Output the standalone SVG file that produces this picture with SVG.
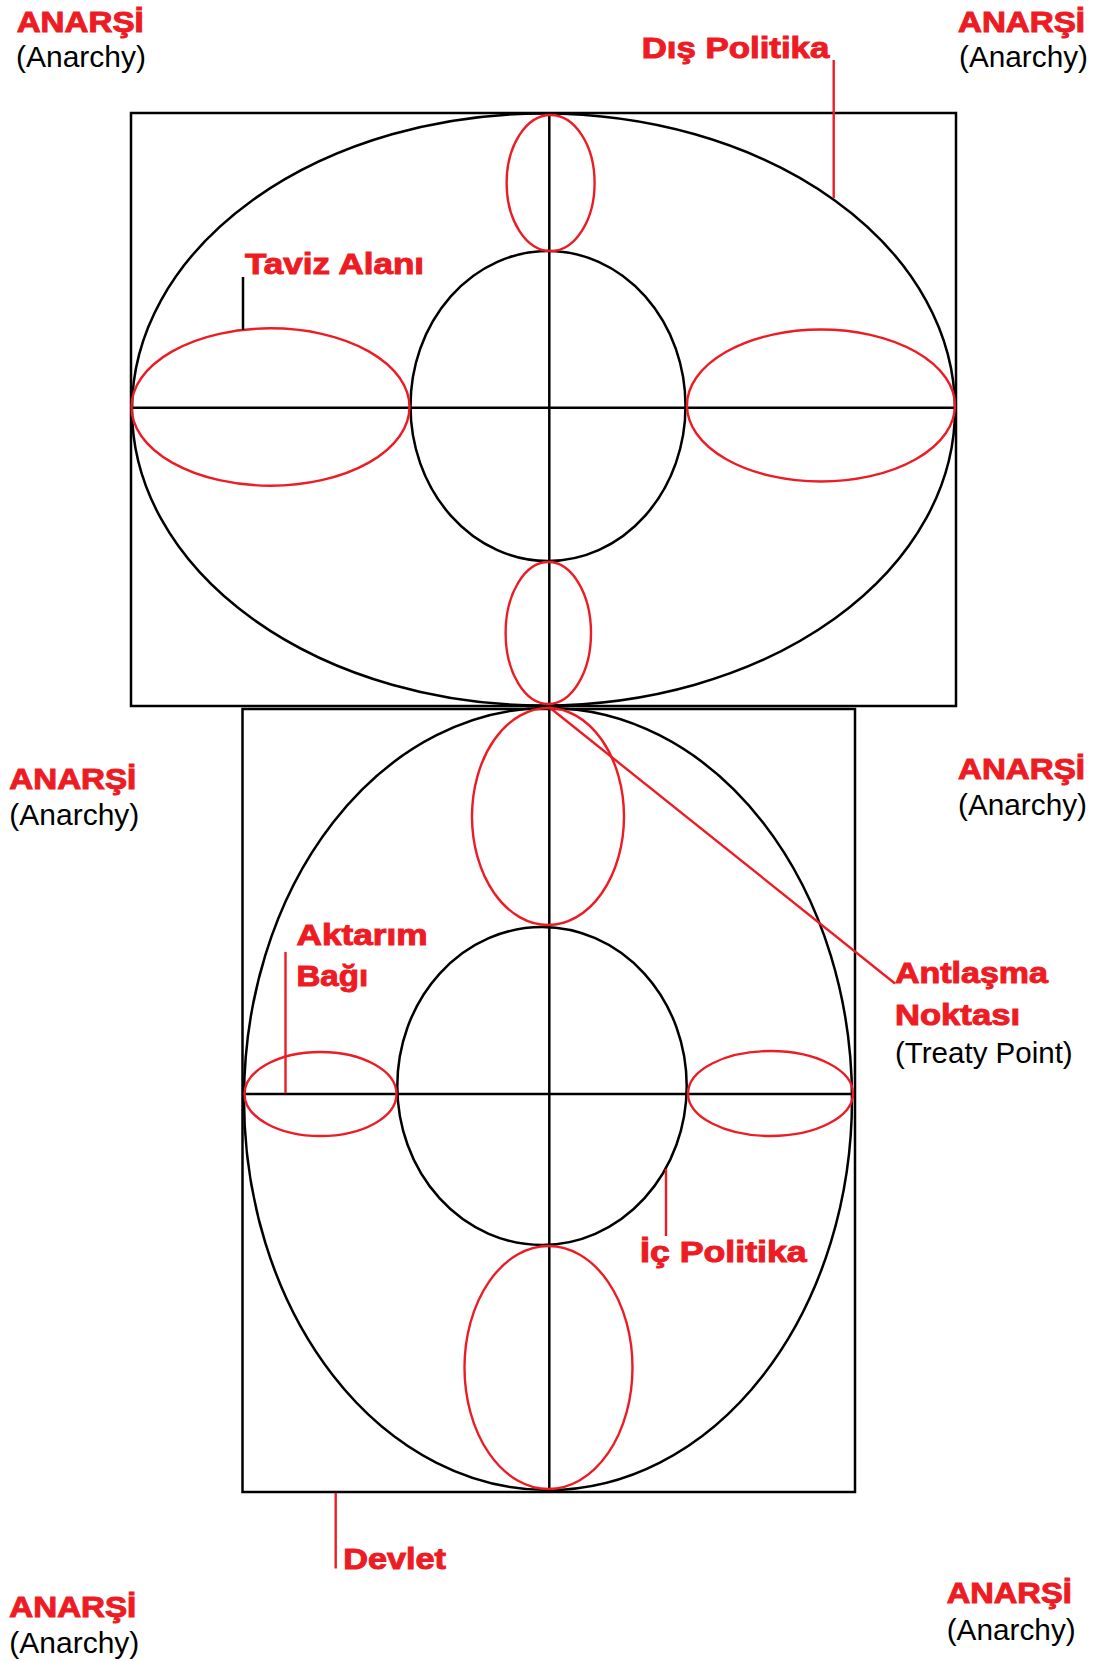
<svg xmlns="http://www.w3.org/2000/svg" width="1099" height="1662" viewBox="0 0 1099 1662">
<style>
.k{fill:none;stroke:#000;stroke-width:2.5}
.r{fill:none;stroke:#ED1C24;stroke-width:2.4}
.b{font-family:"Liberation Sans",Arial,sans-serif;font-weight:bold;font-size:29px;fill:#ED1C24;stroke:#ED1C24;stroke-width:1}
.n{font-family:"Liberation Sans",Arial,sans-serif;font-size:29.5px;fill:#000}
</style>
<rect width="1099" height="1662" fill="#fff"/>
<g id="top-state">
<rect class="k" x="131" y="113" width="825" height="593"/>
<ellipse class="k" cx="543.5" cy="409.5" rx="411.5" ry="296"/>
<ellipse class="k" cx="548" cy="406" rx="137.5" ry="155"/>
<line class="k" x1="131" y1="407.7" x2="956" y2="407.7"/>
</g>
<g id="bottom-state">
<rect class="k" x="242.5" y="709" width="612.5" height="783"/>
<ellipse class="k" cx="548" cy="1099" rx="304" ry="391"/>
<ellipse class="k" cx="542" cy="1086" rx="144.7" ry="159"/>
<line class="k" x1="242.5" y1="1094" x2="855" y2="1094"/>
</g>
<line class="k" x1="549.3" y1="113" x2="549.3" y2="1492"/>
<g id="top-concessions">
<ellipse class="r" cx="270.5" cy="407" rx="139" ry="78.7"/>
<ellipse class="r" cx="821" cy="405.5" rx="134" ry="76"/>
<ellipse class="r" cx="550.6" cy="183" rx="44" ry="68"/>
<ellipse class="r" cx="548.3" cy="633" rx="42.7" ry="71"/>
</g>
<g id="bottom-links">
<ellipse class="r" cx="320.5" cy="1094" rx="76" ry="42"/>
<ellipse class="r" cx="770.5" cy="1093.5" rx="82.5" ry="42.5"/>
<ellipse class="r" cx="548" cy="816.5" rx="76" ry="108.5"/>
<ellipse class="r" cx="548.5" cy="1367.5" rx="84" ry="121.5"/>
</g>
<g id="connectors">
<line class="r" x1="833.7" y1="60" x2="833.7" y2="198"/>
<line class="k" x1="243" y1="277" x2="243" y2="330"/>
<line class="r" x1="285.5" y1="952" x2="285.5" y2="1093"/>
<line class="r" x1="549" y1="707" x2="895" y2="983.5"/>
<line class="r" x1="666" y1="1169" x2="666" y2="1236"/>
<line class="r" x1="335.7" y1="1493" x2="335.7" y2="1568.5"/>
</g>
<g id="anarchy-tl"><text class="b" x="16.7" y="32" textLength="127" lengthAdjust="spacingAndGlyphs">ANARŞİ</text><text class="n" x="16" y="67" textLength="130" lengthAdjust="spacingAndGlyphs">(Anarchy)</text></g>
<g id="anarchy-tr"><text class="b" x="958" y="32" textLength="127" lengthAdjust="spacingAndGlyphs">ANARŞİ</text><text class="n" x="959" y="67" textLength="129" lengthAdjust="spacingAndGlyphs">(Anarchy)</text></g>
<g id="anarchy-ml"><text class="b" x="9.3" y="789.3" textLength="127" lengthAdjust="spacingAndGlyphs">ANARŞİ</text><text class="n" x="9.3" y="825" textLength="130" lengthAdjust="spacingAndGlyphs">(Anarchy)</text></g>
<g id="anarchy-mr"><text class="b" x="958" y="779.3" textLength="127" lengthAdjust="spacingAndGlyphs">ANARŞİ</text><text class="n" x="958" y="815" textLength="129" lengthAdjust="spacingAndGlyphs">(Anarchy)</text></g>
<g id="anarchy-bl"><text class="b" x="9.3" y="1616.7" textLength="127" lengthAdjust="spacingAndGlyphs">ANARŞİ</text><text class="n" x="9.3" y="1653.3" textLength="130" lengthAdjust="spacingAndGlyphs">(Anarchy)</text></g>
<g id="anarchy-br"><text class="b" x="946.7" y="1603.3" textLength="125" lengthAdjust="spacingAndGlyphs">ANARŞİ</text><text class="n" x="946.7" y="1640" textLength="129" lengthAdjust="spacingAndGlyphs">(Anarchy)</text></g>
<g id="dis-politika"><text class="b" x="641.7" y="58.3" textLength="187.6" lengthAdjust="spacingAndGlyphs">Dış Politika</text></g>
<g id="taviz-alani"><text class="b" x="245" y="273.5" textLength="179" lengthAdjust="spacingAndGlyphs">Taviz Alanı</text></g>
<g id="aktarim-bagi"><text class="b" x="296.5" y="945" textLength="131" lengthAdjust="spacingAndGlyphs">Aktarım</text><text class="b" x="296.5" y="986" textLength="71.6" lengthAdjust="spacingAndGlyphs">Bağı</text></g>
<g id="antlasma-noktasi"><text class="b" x="895" y="983.3" textLength="153" lengthAdjust="spacingAndGlyphs">Antlaşma</text><text class="b" x="895" y="1025" textLength="125" lengthAdjust="spacingAndGlyphs">Noktası</text><text class="n" x="895" y="1063.3" textLength="177.7" lengthAdjust="spacingAndGlyphs">(Treaty Point)</text></g>
<g id="ic-politika"><text class="b" x="640" y="1261.7" textLength="166.7" lengthAdjust="spacingAndGlyphs">İç Politika</text></g>
<g id="devlet"><text class="b" x="343.3" y="1569" textLength="102.7" lengthAdjust="spacingAndGlyphs">Devlet</text></g>
</svg>
